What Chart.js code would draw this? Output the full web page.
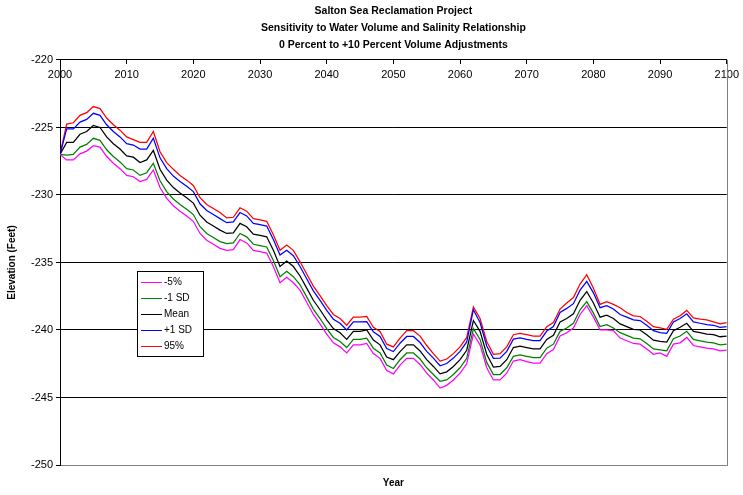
<!DOCTYPE html>
<html>
<head>
<meta charset="utf-8">
<title>Salton Sea Reclamation Project</title>
<script src="https://cdn.jsdelivr.net/npm/chart.js@4.4.0/dist/chart.umd.min.js"></script>
<style>
  html, body { margin: 0; padding: 0; background: #fff; }
</style>
</head>
<body>
<canvas id="ElevationChart" width="743" height="495"></canvas>
<script>
const FONT = '"Liberation Sans", Arial, sans-serif';

// one point per year, 2000 - 2100
const years = [];
for (let yr = 2000; yr <= 2100; yr++) {
    years.push(yr);
}

const seriesLabels = ['-5%', '-1 SD', 'Mean', '+1 SD', '95%'];
const seriesColors = ['#FF00FF', '#008000', '#000000', '#0000FF', '#FF0000'];

const minus5 = [
    -227.0, -227.4, -227.4, -226.95, -226.75, -226.35, -226.45, -227.15, -227.65, -228.05,
    -228.55, -228.65, -229.0, -228.85, -228.15, -229.45, -230.25, -230.8, -231.2, -231.55,
    -231.95, -232.85, -233.35, -233.65, -233.95, -234.1, -234.05, -233.3, -233.55, -234.1,
    -234.2, -234.3, -235.3, -236.5, -236.1, -236.5, -237.05, -237.95, -238.85, -239.55,
    -240.3, -240.95, -241.25, -241.7, -241.1, -241.1, -241.0, -241.75, -242.1, -243.0,
    -243.25, -242.6, -242.1, -242.1, -242.55, -243.2, -243.7, -244.3, -244.1, -243.7,
    -243.2, -242.5, -240.3, -241.1, -242.8, -243.7, -243.7, -243.2, -242.3, -242.2,
    -242.35, -242.45, -242.45, -241.75, -241.45, -240.45, -240.2, -239.85, -238.85, -238.2,
    -239.05, -240.0, -240.0, -240.05, -240.6, -240.8, -241.0, -241.05, -241.4, -241.8,
    -241.7, -241.95, -241.05, -240.95, -240.55, -241.15, -241.25, -241.35, -241.4, -241.55,
    -241.5
];

const minus1SD = [
    -227.0, -227.05, -227.0, -226.45, -226.25, -225.8, -225.95, -226.65, -227.15, -227.55,
    -228.05, -228.15, -228.55, -228.35, -227.65, -228.95, -229.75, -230.3, -230.7, -231.05,
    -231.45, -232.35, -232.85, -233.15, -233.45, -233.6, -233.55, -232.85, -233.1, -233.65,
    -233.75, -233.85, -234.85, -236.05, -235.65, -236.05, -236.65, -237.55, -238.45, -239.15,
    -239.9, -240.55, -240.85, -241.3, -240.7, -240.7, -240.6, -241.35, -241.7, -242.6,
    -242.85, -242.2, -241.7, -241.7, -242.15, -242.8, -243.3, -243.8, -243.7, -243.3,
    -242.8, -242.1, -239.9, -240.7, -242.4, -243.3, -243.3, -242.8, -241.95, -241.85,
    -241.95, -242.05, -242.05, -241.35, -241.05, -240.1, -239.85, -239.5, -238.5, -237.9,
    -238.75, -239.75, -239.6, -239.85, -240.2, -240.4, -240.6, -240.65, -241.0, -241.4,
    -241.48, -241.55, -240.65, -240.45, -240.1, -240.7, -240.8, -240.9, -240.95, -241.1,
    -241.05
];

const meanElev = [
    -227.0, -226.1, -226.1, -225.5, -225.3, -224.85, -225.0, -225.7, -226.2, -226.6,
    -227.1, -227.2, -227.6, -227.4, -226.7, -228.1, -228.9, -229.45, -229.85, -230.2,
    -230.6, -231.5, -232.0, -232.3, -232.6, -232.85, -232.8, -232.1, -232.35, -232.9,
    -233.0, -233.1, -234.1, -235.3, -234.9, -235.3, -236.0, -236.9, -237.8, -238.5,
    -239.25, -239.9, -240.2, -240.7, -240.1, -240.1, -240.0, -240.75, -241.1, -242.0,
    -242.2, -241.6, -241.1, -241.1, -241.55, -242.2, -242.7, -243.25, -243.1, -242.7,
    -242.2, -241.5, -239.3, -240.1, -241.8, -242.75, -242.7, -242.2, -241.3, -241.2,
    -241.3, -241.4, -241.4, -240.7, -240.4, -239.4, -239.15, -238.8, -237.8, -237.15,
    -238.0, -239.05, -238.9, -239.15, -239.55, -239.75, -239.95, -240.0, -240.35, -240.75,
    -240.85, -240.9, -240.05, -239.8, -239.5, -240.1, -240.2, -240.3, -240.35, -240.5,
    -240.45
];

const plus1SD = [
    -227.0, -225.1, -225.1, -224.6, -224.4, -223.95, -224.1, -224.8, -225.3, -225.7,
    -226.2, -226.3, -226.6, -226.6, -225.8, -227.25, -228.05, -228.6, -229.0, -229.35,
    -229.75, -230.65, -231.15, -231.45, -231.75, -232.05, -232.0, -231.3, -231.55, -232.1,
    -232.2, -232.3, -233.3, -234.45, -234.1, -234.5, -235.3, -236.2, -237.1, -237.8,
    -238.55, -239.2, -239.5, -240.0, -239.4, -239.4, -239.38, -240.13, -240.48, -241.38,
    -241.6, -240.98, -240.48, -240.48, -240.93, -241.58, -242.08, -242.65, -242.48, -242.08,
    -241.58, -240.88, -238.5, -239.45, -241.18, -242.1, -242.08, -241.58, -240.68, -240.58,
    -240.7, -240.78, -240.78, -240.08, -239.75, -238.7, -238.4, -238.05, -237.05, -236.4,
    -237.25, -238.35, -238.2, -238.45, -238.85, -239.05, -239.25, -239.3, -239.65, -240.05,
    -240.2, -240.25, -239.4, -239.15, -238.8, -239.4, -239.5, -239.6, -239.65, -239.8,
    -239.75
];

const pct95 = [
    -227.0, -224.75, -224.65, -224.1, -223.9, -223.45, -223.6, -224.3, -224.8, -225.2,
    -225.7, -225.9, -226.1, -226.1, -225.3, -226.8, -227.6, -228.1, -228.55, -228.9,
    -229.3, -230.2, -230.7, -231.0, -231.3, -231.7, -231.65, -230.95, -231.2, -231.75,
    -231.85, -231.95, -232.95, -234.1, -233.7, -234.1, -234.95, -235.85, -236.75, -237.45,
    -238.2, -238.85, -239.15, -239.65, -239.05, -239.05, -239.0, -239.8, -240.1, -241.05,
    -241.25, -240.6, -240.05, -240.05, -240.45, -241.15, -241.75, -242.3, -242.15, -241.75,
    -241.25, -240.55, -238.3, -239.15, -240.85, -241.8, -241.75, -241.25, -240.35, -240.25,
    -240.35, -240.45, -240.45, -239.75, -239.45, -238.45, -238.0, -237.6, -236.6, -235.9,
    -236.9, -238.1, -237.9, -238.1, -238.35, -238.7, -238.95, -239.0, -239.35, -239.75,
    -239.85, -239.95, -239.2, -238.95, -238.55, -239.1, -239.2, -239.25, -239.4, -239.55,
    -239.45
];

const yTicks = [-220, -225, -230, -235, -240, -245, -250];

function toPoints(values) {
    return values.map((v, i) => ({ x: years[i], y: v }));
}

// gray frame on the right edge of the plot (Excel plot area border)
const plotFrame = {
    id: 'plotFrame',
    beforeDatasetsDraw(chart) {
        const { ctx, chartArea } = chart;
        ctx.save();
        ctx.strokeStyle = '#808080';
        ctx.lineWidth = 1;
        ctx.beginPath();
        ctx.moveTo(Math.round(chartArea.right) + 0.5, chartArea.top);
        ctx.lineTo(Math.round(chartArea.right) + 0.5, chartArea.bottom + 1);
        ctx.stroke();
        ctx.restore();
    }
};

// boxed legend sitting inside the plot, like the Excel one
const boxLegend = {
    id: 'boxLegend',
    afterDatasetsDraw(chart) {
        const { ctx, chartArea } = chart;
        const left = Math.round(chartArea.left) + 77;
        const top = Math.round(chartArea.top) + 211;
        const w = 66, h = 85;
        ctx.save();
        ctx.fillStyle = '#fff';
        ctx.fillRect(left, top, w, h);
        ctx.strokeStyle = '#000';
        ctx.lineWidth = 1;
        ctx.strokeRect(left + 0.5, top + 0.5, w, h);
        ctx.font = '10px ' + FONT;
        ctx.textBaseline = 'middle';
        ctx.textAlign = 'left';
        chart.data.datasets.forEach((ds, i) => {
            const y = top + 11 + i * 16;
            ctx.strokeStyle = ds.borderColor;
            ctx.lineWidth = 1;
            ctx.beginPath();
            ctx.moveTo(left + 4, y + 0.5);
            ctx.lineTo(left + 25, y + 0.5);
            ctx.stroke();
            ctx.fillStyle = '#000';
            ctx.fillText(ds.label, left + 27, y);
        });
        ctx.restore();
    }
};

const datasetValues = [minus5, minus1SD, meanElev, plus1SD, pct95];
const datasets = datasetValues.map((vals, i) => ({
    label: seriesLabels[i],
    data: toPoints(vals),
    borderColor: seriesColors[i],
    backgroundColor: seriesColors[i],
    borderWidth: 1.25,
    pointRadius: 0,
    tension: 0,
    fill: false
}));

const config = {
    type: 'line',
    data: { datasets: datasets },
    options: {
        responsive: false,
        animation: false,
        layout: { padding: { left: 0, right: 15, top: 0, bottom: 3 } },
        plugins: {
            legend: { display: false },
            tooltip: { enabled: false },
            title: {
                display: true,
                fullSize: false,
                text: [
                    'Salton Sea Reclamation Project',
                    'Sensitivity to Water Volume and Salinity Relationship',
                    '0 Percent to +10 Percent Volume Adjustments'
                ],
                color: '#000',
                font: { family: FONT, size: 10.5, weight: 'bold', lineHeight: 1.65 },
                padding: { top: 2, bottom: 6 }
            },
            subtitle: {
                display: true,
                position: 'bottom',
                fullSize: false,
                text: 'Year',
                color: '#000',
                font: { family: FONT, size: 10, weight: 'bold' },
                padding: { top: 12, bottom: 3 }
            }
        },
        scales: {
            x: {
                type: 'linear',
                position: { y: -220 },
                min: 2000,
                max: 2100,
                ticks: {
                    stepSize: 10,
                    color: '#000',
                    font: { family: FONT, size: 11 },
                    padding: 4,
                    maxRotation: 0,
                    callback: (value) => String(value)
                },
                grid: {
                    drawOnChartArea: false,
                    drawTicks: true,
                    tickLength: 4,
                    color: '#000'
                },
                border: { display: true, color: '#000', width: 1 }
            },
            y: {
                position: 'left',
                min: -250,
                max: -220,
                afterBuildTicks: (scale) => {
                    scale.ticks = yTicks.map(v => ({ value: v }));
                },
                afterFit: (scale) => {
                    scale.width = 60;
                },
                ticks: {
                    color: '#000',
                    font: { family: FONT, size: 11 },
                    padding: 3
                },
                grid: {
                    color: (c) => (c.tick && c.tick.value === -250 ? '#808080' : '#000'),
                    tickColor: '#000',
                    tickLength: 4,
                    lineWidth: 1
                },
                border: { display: true, color: '#000', width: 1 },
                title: {
                    display: true,
                    text: 'Elevation (Feet)',
                    color: '#000',
                    font: { family: FONT, size: 10, weight: 'bold' },
                    padding: { top: 6, bottom: 0 }
                }
            }
        }
    },
    plugins: [plotFrame, boxLegend]
};

let elevationChart = new Chart(document.getElementById('ElevationChart'), config);
</script>
</body>
</html>
